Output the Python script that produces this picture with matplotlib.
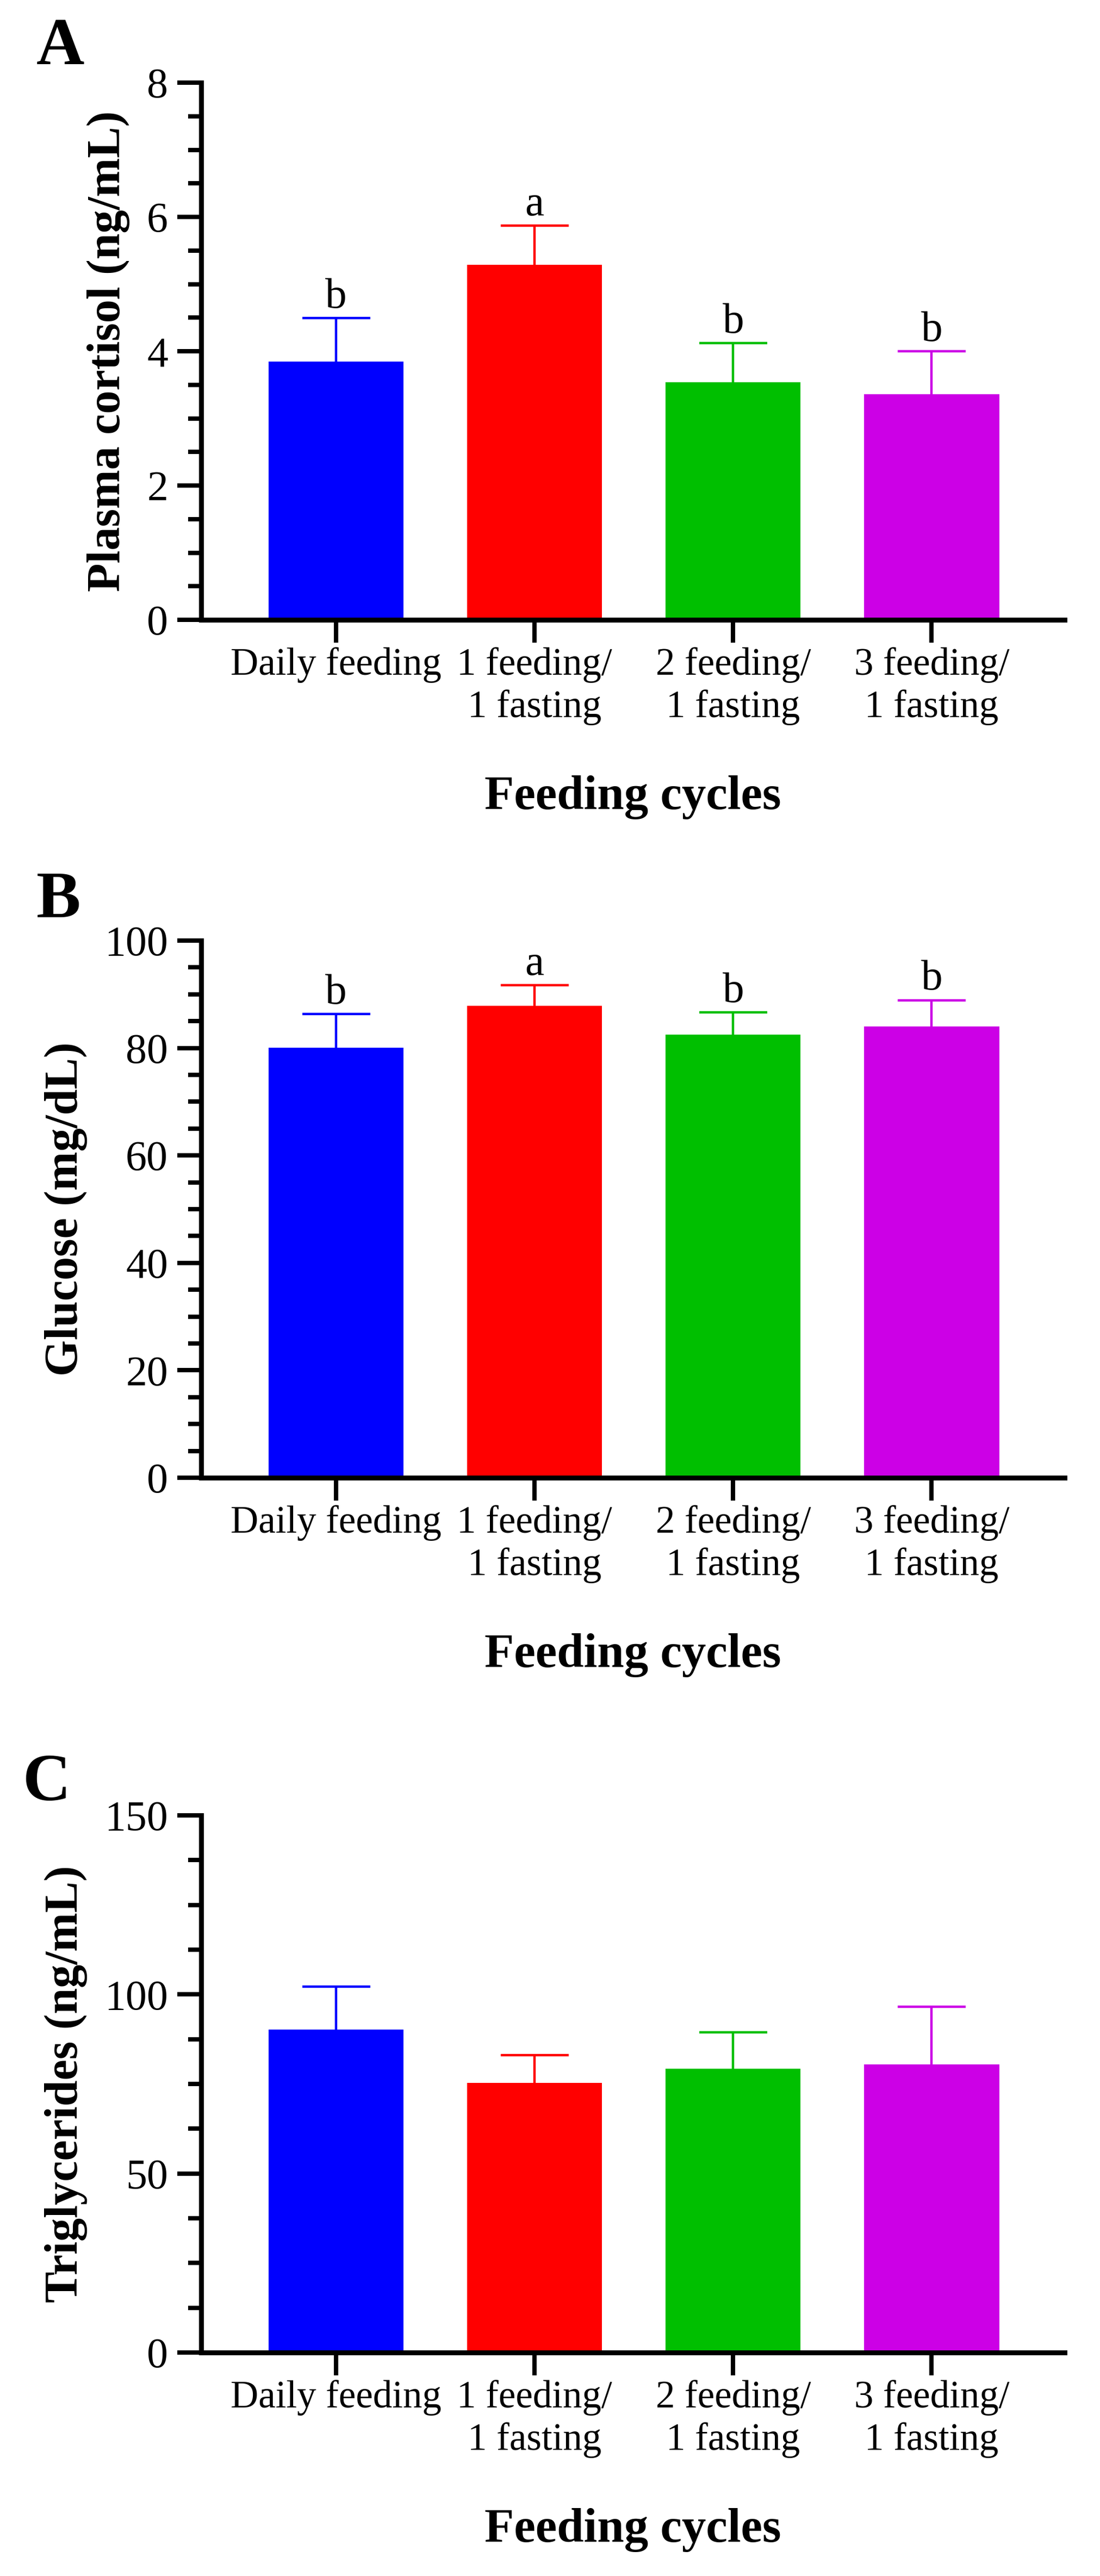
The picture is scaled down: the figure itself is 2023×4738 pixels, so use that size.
import matplotlib
matplotlib.use("Agg")
import matplotlib.pyplot as plt
from matplotlib.ticker import MultipleLocator

plt.rcParams['font.family'] = ['Liberation Serif', 'DejaVu Serif']

groups = ['Daily feeding', '1 feeding/\n1 fasting', '2 feeding/\n1 fasting', '3 feeding/\n1 fasting']
bar_colors = ['#0000FF', '#FF0000', '#00BF00', '#CC00E6']

# panel A - plasma cortisol
cortisol_mean = [3.85, 5.29, 3.54, 3.36]
cortisol_err = [0.64, 0.58, 0.58, 0.64]
cortisol_letters = ['b', 'a', 'b', 'b']

# panel B - glucose
glucose_mean = [80.1, 87.9, 82.5, 84.0]
glucose_err = [6.2, 3.8, 4.1, 4.9]
glucose_letters = ['b', 'a', 'b', 'b']

# panel C - triglycerides (no letters)
tg_mean = [90.2, 75.3, 79.3, 80.5]
tg_err = [12.0, 7.8, 10.1, 16.0]
tg_letters = None

W, H = 2024, 4738
fig = plt.figure(figsize=(W / 100, H / 100), dpi=100)

panels = [
    ('A', cortisol_mean, cortisol_err, cortisol_letters, 'Plasma cortisol (ng/mL)', 8, 2, 0.5, 152, (67, 118)),
    ('B', glucose_mean, glucose_err, glucose_letters, 'Glucose (mg/dL)', 100, 20, 5, 1730, (67, 1687)),
    ('C', tg_mean, tg_err, tg_letters, 'Triglycerides (ng/mL)', 150, 50, 12.5, 3339, (42, 3311)),
]

left_px, right_px = 370, 1958
ax_h_px = 988

for tag, mean, err, letters, ylab, ymax, major, minor, top_px, tag_pos in panels:
    ax = fig.add_axes([left_px / W, 1 - (top_px + ax_h_px) / H,
                       (right_px - left_px) / W, ax_h_px / H])
    x = range(len(groups))
    ax.bar(x, mean, width=0.68, color=bar_colors, zorder=2)
    for i in x:
        eb = ax.errorbar(i, mean[i], yerr=[[0], [err[i]]], color=bar_colors[i],
                         elinewidth=3.2, capsize=45, capthick=3.2, zorder=1)
        # only the upper cap is shown
        eb[1][0].set_visible(False)
        if letters:
            ax.annotate(letters[i], (i, mean[i] + err[i]), xytext=(0, 14),
                        textcoords='offset points', ha='center', va='baseline',
                        fontsize=57)

    ax.set_xlim(-0.68, 3.67)
    ax.set_ylim(0, ymax)
    ax.yaxis.set_major_locator(MultipleLocator(major))
    ax.yaxis.set_minor_locator(MultipleLocator(minor))
    ax.set_xticks(list(x))
    ax.set_xticklabels(groups, fontsize=51, linespacing=1.25)

    for s in ['top', 'right']:
        ax.spines[s].set_visible(False)
    for s in ['left', 'bottom']:
        ax.spines[s].set_linewidth(6.5)
    ax.tick_params(axis='y', which='major', length=32, width=5.8, pad=12, labelsize=56)
    ax.tick_params(axis='y', which='minor', length=17, width=5.8)
    ax.tick_params(axis='x', which='major', length=30, width=5.8, pad=6)

    ax.set_ylabel(ylab, fontsize=62, fontweight='bold', labelpad=22)
    ax.set_xlabel('Feeding cycles', fontsize=64, fontweight='bold', labelpad=66)

    fig.text(tag_pos[0] / W, 1 - tag_pos[1] / H, tag, fontsize=88,
             fontweight='bold', va='baseline', ha='left')

fig.savefig('out.png', dpi=100, facecolor='white')
